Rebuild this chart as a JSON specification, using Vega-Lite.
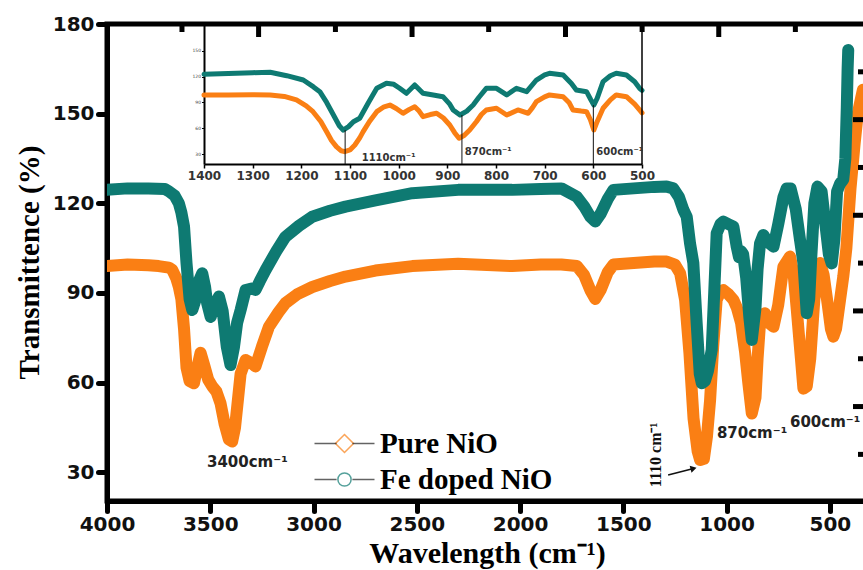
{
  "$schema": "https://vega.github.io/schema/vega-lite/v6.json",
  "width": 759,
  "height": 477,
  "autosize": {"type": "none"},
  "padding": {"left": 107, "top": 24, "right": 0, "bottom": 69},
  "background": "white",
  "config": {
    "view": {"stroke": "black", "strokeWidth": 5},
    "axis": {"grid": false, "labelFlush": false, "labelOverlap": false, "labelBound": false}
  },
  "datasets": {
    "main": [
      {"s":"Pure NiO","wn":4000,"t":99},{"s":"Pure NiO","wn":3900,"t":99.5},{"s":"Pure NiO","wn":3800,"t":99.3},{"s":"Pure NiO","wn":3750,"t":99},{"s":"Pure NiO","wn":3700,"t":98.5},{"s":"Pure NiO","wn":3684,"t":97.7},{"s":"Pure NiO","wn":3665,"t":95},{"s":"Pure NiO","wn":3652,"t":92},{"s":"Pure NiO","wn":3640,"t":88},{"s":"Pure NiO","wn":3627,"t":78},{"s":"Pure NiO","wn":3615,"t":65},{"s":"Pure NiO","wn":3600,"t":60.5},{"s":"Pure NiO","wn":3579,"t":59.8},{"s":"Pure NiO","wn":3560,"t":66},{"s":"Pure NiO","wn":3547,"t":70},{"s":"Pure NiO","wn":3530,"t":66},{"s":"Pure NiO","wn":3510,"t":61},{"s":"Pure NiO","wn":3490,"t":58.7},{"s":"Pure NiO","wn":3470,"t":57},{"s":"Pure NiO","wn":3450,"t":53},{"s":"Pure NiO","wn":3430,"t":46},{"s":"Pure NiO","wn":3410,"t":41},{"s":"Pure NiO","wn":3394,"t":40.3},{"s":"Pure NiO","wn":3380,"t":45},{"s":"Pure NiO","wn":3365,"t":55},{"s":"Pure NiO","wn":3353,"t":63},{"s":"Pure NiO","wn":3329,"t":67.6},{"s":"Pure NiO","wn":3300,"t":66.5},{"s":"Pure NiO","wn":3281,"t":65.4},{"s":"Pure NiO","wn":3250,"t":72},{"s":"Pure NiO","wn":3216,"t":78.7},{"s":"Pure NiO","wn":3170,"t":83.5},{"s":"Pure NiO","wn":3136,"t":86.6},{"s":"Pure NiO","wn":3080,"t":89.5},{"s":"Pure NiO","wn":3006,"t":92},{"s":"Pure NiO","wn":2920,"t":94},{"s":"Pure NiO","wn":2845,"t":95.5},{"s":"Pure NiO","wn":2700,"t":97.5},{"s":"Pure NiO","wn":2522,"t":99},{"s":"Pure NiO","wn":2300,"t":99.8},{"s":"Pure NiO","wn":2038,"t":99},{"s":"Pure NiO","wn":1900,"t":99.5},{"s":"Pure NiO","wn":1800,"t":99.5},{"s":"Pure NiO","wn":1725,"t":99},{"s":"Pure NiO","wn":1690,"t":96},{"s":"Pure NiO","wn":1660,"t":91},{"s":"Pure NiO","wn":1636,"t":88},{"s":"Pure NiO","wn":1610,"t":91},{"s":"Pure NiO","wn":1575,"t":97},{"s":"Pure NiO","wn":1548,"t":99.5},{"s":"Pure NiO","wn":1450,"t":100},{"s":"Pure NiO","wn":1350,"t":100.5},{"s":"Pure NiO","wn":1290,"t":100.5},{"s":"Pure NiO","wn":1250,"t":99.5},{"s":"Pure NiO","wn":1225,"t":96.6},{"s":"Pure NiO","wn":1201,"t":87.7},{"s":"Pure NiO","wn":1180,"t":70},{"s":"Pure NiO","wn":1160,"t":48},{"s":"Pure NiO","wn":1140,"t":37},{"s":"Pure NiO","wn":1128,"t":34.1},{"s":"Pure NiO","wn":1110,"t":34.5},{"s":"Pure NiO","wn":1095,"t":42},{"s":"Pure NiO","wn":1080,"t":54},{"s":"Pure NiO","wn":1065,"t":72},{"s":"Pure NiO","wn":1048,"t":87.7},{"s":"Pure NiO","wn":1030,"t":90.5},{"s":"Pure NiO","wn":1016,"t":91},{"s":"Pure NiO","wn":990,"t":89.5},{"s":"Pure NiO","wn":967,"t":87.7},{"s":"Pure NiO","wn":950,"t":85},{"s":"Pure NiO","wn":930,"t":80},{"s":"Pure NiO","wn":910,"t":70},{"s":"Pure NiO","wn":895,"t":60},{"s":"Pure NiO","wn":878,"t":49.7},{"s":"Pure NiO","wn":860,"t":55},{"s":"Pure NiO","wn":850,"t":68},{"s":"Pure NiO","wn":838,"t":80},{"s":"Pure NiO","wn":814,"t":83.2},{"s":"Pure NiO","wn":795,"t":80},{"s":"Pure NiO","wn":773,"t":78.7},{"s":"Pure NiO","wn":750,"t":86},{"s":"Pure NiO","wn":725,"t":98.8},{"s":"Pure NiO","wn":693,"t":102.2},{"s":"Pure NiO","wn":675,"t":96},{"s":"Pure NiO","wn":660,"t":84.3},{"s":"Pure NiO","wn":640,"t":68},{"s":"Pure NiO","wn":628,"t":58},{"s":"Pure NiO","wn":612,"t":58.7},{"s":"Pure NiO","wn":595,"t":68},{"s":"Pure NiO","wn":575,"t":88},{"s":"Pure NiO","wn":560,"t":97},{"s":"Pure NiO","wn":547,"t":100},{"s":"Pure NiO","wn":530,"t":96},{"s":"Pure NiO","wn":510,"t":86},{"s":"Pure NiO","wn":495,"t":78},{"s":"Pure NiO","wn":483,"t":75.4},{"s":"Pure NiO","wn":470,"t":78},{"s":"Pure NiO","wn":450,"t":88},{"s":"Pure NiO","wn":435,"t":95.5},{"s":"Pure NiO","wn":420,"t":105},{"s":"Pure NiO","wn":400,"t":125},{"s":"Pure NiO","wn":380,"t":140},{"s":"Pure NiO","wn":365,"t":150},{"s":"Pure NiO","wn":340,"t":158},
      {"s":"Fe doped NiO","wn":4000,"t":124.5},{"s":"Fe doped NiO","wn":3900,"t":125},{"s":"Fe doped NiO","wn":3800,"t":125},{"s":"Fe doped NiO","wn":3720,"t":124.8},{"s":"Fe doped NiO","wn":3700,"t":124},{"s":"Fe doped NiO","wn":3672,"t":122.5},{"s":"Fe doped NiO","wn":3652,"t":120},{"s":"Fe doped NiO","wn":3640,"t":117},{"s":"Fe doped NiO","wn":3627,"t":112.2},{"s":"Fe doped NiO","wn":3615,"t":100},{"s":"Fe doped NiO","wn":3600,"t":88},{"s":"Fe doped NiO","wn":3587,"t":84.3},{"s":"Fe doped NiO","wn":3570,"t":88},{"s":"Fe doped NiO","wn":3555,"t":94},{"s":"Fe doped NiO","wn":3539,"t":96.6},{"s":"Fe doped NiO","wn":3525,"t":92},{"s":"Fe doped NiO","wn":3515,"t":86.6},{"s":"Fe doped NiO","wn":3498,"t":82},{"s":"Fe doped NiO","wn":3480,"t":86},{"s":"Fe doped NiO","wn":3458,"t":88.8},{"s":"Fe doped NiO","wn":3440,"t":84},{"s":"Fe doped NiO","wn":3420,"t":72},{"s":"Fe doped NiO","wn":3402,"t":65.9},{"s":"Fe doped NiO","wn":3385,"t":72},{"s":"Fe doped NiO","wn":3370,"t":80},{"s":"Fe doped NiO","wn":3353,"t":84.3},{"s":"Fe doped NiO","wn":3329,"t":91},{"s":"Fe doped NiO","wn":3300,"t":91.5},{"s":"Fe doped NiO","wn":3281,"t":91},{"s":"Fe doped NiO","wn":3260,"t":94},{"s":"Fe doped NiO","wn":3232,"t":97.7},{"s":"Fe doped NiO","wn":3180,"t":104},{"s":"Fe doped NiO","wn":3136,"t":108.8},{"s":"Fe doped NiO","wn":3070,"t":112.5},{"s":"Fe doped NiO","wn":3006,"t":115.5},{"s":"Fe doped NiO","wn":2920,"t":117.5},{"s":"Fe doped NiO","wn":2845,"t":118.9},{"s":"Fe doped NiO","wn":2700,"t":121},{"s":"Fe doped NiO","wn":2522,"t":123.4},{"s":"Fe doped NiO","wn":2300,"t":124.5},{"s":"Fe doped NiO","wn":2038,"t":124.5},{"s":"Fe doped NiO","wn":1900,"t":124.8},{"s":"Fe doped NiO","wn":1800,"t":125},{"s":"Fe doped NiO","wn":1725,"t":122.2},{"s":"Fe doped NiO","wn":1690,"t":119},{"s":"Fe doped NiO","wn":1660,"t":115.5},{"s":"Fe doped NiO","wn":1636,"t":113.9},{"s":"Fe doped NiO","wn":1610,"t":116.5},{"s":"Fe doped NiO","wn":1575,"t":121.5},{"s":"Fe doped NiO","wn":1548,"t":124.5},{"s":"Fe doped NiO","wn":1450,"t":125},{"s":"Fe doped NiO","wn":1350,"t":125.5},{"s":"Fe doped NiO","wn":1290,"t":125.6},{"s":"Fe doped NiO","wn":1258,"t":125},{"s":"Fe doped NiO","wn":1230,"t":122},{"s":"Fe doped NiO","wn":1209,"t":117.8},{"s":"Fe doped NiO","wn":1193,"t":115.5},{"s":"Fe doped NiO","wn":1177,"t":106.6},{"s":"Fe doped NiO","wn":1161,"t":100},{"s":"Fe doped NiO","wn":1145,"t":80},{"s":"Fe doped NiO","wn":1130,"t":63},{"s":"Fe doped NiO","wn":1120,"t":59.8},{"s":"Fe doped NiO","wn":1105,"t":60.5},{"s":"Fe doped NiO","wn":1090,"t":64},{"s":"Fe doped NiO","wn":1072,"t":71},{"s":"Fe doped NiO","wn":1060,"t":90},{"s":"Fe doped NiO","wn":1048,"t":110},{"s":"Fe doped NiO","wn":1030,"t":113},{"s":"Fe doped NiO","wn":1016,"t":113.9},{"s":"Fe doped NiO","wn":990,"t":113},{"s":"Fe doped NiO","wn":967,"t":112.2},{"s":"Fe doped NiO","wn":951,"t":105.5},{"s":"Fe doped NiO","wn":940,"t":102},{"s":"Fe doped NiO","wn":930,"t":104},{"s":"Fe doped NiO","wn":920,"t":103},{"s":"Fe doped NiO","wn":905,"t":95},{"s":"Fe doped NiO","wn":890,"t":82},{"s":"Fe doped NiO","wn":878,"t":74.3},{"s":"Fe doped NiO","wn":860,"t":85},{"s":"Fe doped NiO","wn":850,"t":98},{"s":"Fe doped NiO","wn":838,"t":106.6},{"s":"Fe doped NiO","wn":822,"t":109.4},{"s":"Fe doped NiO","wn":800,"t":107},{"s":"Fe doped NiO","wn":773,"t":105.5},{"s":"Fe doped NiO","wn":750,"t":113},{"s":"Fe doped NiO","wn":725,"t":122},{"s":"Fe doped NiO","wn":709,"t":125},{"s":"Fe doped NiO","wn":690,"t":125},{"s":"Fe doped NiO","wn":665,"t":118},{"s":"Fe doped NiO","wn":645,"t":108},{"s":"Fe doped NiO","wn":628,"t":100},{"s":"Fe doped NiO","wn":612,"t":83.2},{"s":"Fe doped NiO","wn":600,"t":88},{"s":"Fe doped NiO","wn":590,"t":102},{"s":"Fe doped NiO","wn":575,"t":120},{"s":"Fe doped NiO","wn":560,"t":125.6},{"s":"Fe doped NiO","wn":540,"t":124},{"s":"Fe doped NiO","wn":520,"t":112},{"s":"Fe doped NiO","wn":505,"t":103},{"s":"Fe doped NiO","wn":491,"t":99.9},{"s":"Fe doped NiO","wn":478,"t":108},{"s":"Fe doped NiO","wn":465,"t":124},{"s":"Fe doped NiO","wn":451,"t":126.5},{"s":"Fe doped NiO","wn":435,"t":128},{"s":"Fe doped NiO","wn":425,"t":135},{"s":"Fe doped NiO","wn":418,"t":152},{"s":"Fe doped NiO","wn":414,"t":165},{"s":"Fe doped NiO","wn":411,"t":171.3}
    ],
    "inset": [
      {"s":"Pure NiO","wn":1400,"t":98.7},{"s":"Pure NiO","wn":1350,"t":98.7},{"s":"Pure NiO","wn":1300,"t":99},{"s":"Pure NiO","wn":1264,"t":98.7},{"s":"Pure NiO","wn":1235,"t":97},{"s":"Pure NiO","wn":1210,"t":92.9},{"s":"Pure NiO","wn":1190,"t":86},{"s":"Pure NiO","wn":1176,"t":79.3},{"s":"Pure NiO","wn":1160,"t":68},{"s":"Pure NiO","wn":1148,"t":56.2},{"s":"Pure NiO","wn":1138,"t":46},{"s":"Pure NiO","wn":1128,"t":38.8},{"s":"Pure NiO","wn":1118,"t":34},{"s":"Pure NiO","wn":1111,"t":33},{"s":"Pure NiO","wn":1100,"t":35},{"s":"Pure NiO","wn":1090,"t":40.7},{"s":"Pure NiO","wn":1080,"t":49},{"s":"Pure NiO","wn":1073,"t":56.2},{"s":"Pure NiO","wn":1060,"t":68},{"s":"Pure NiO","wn":1045,"t":79.3},{"s":"Pure NiO","wn":1030,"t":85},{"s":"Pure NiO","wn":1018,"t":87},{"s":"Pure NiO","wn":1005,"t":83},{"s":"Pure NiO","wn":991,"t":77.5},{"s":"Pure NiO","wn":978,"t":82},{"s":"Pure NiO","wn":967,"t":85.1},{"s":"Pure NiO","wn":958,"t":80},{"s":"Pure NiO","wn":950,"t":73.6},{"s":"Pure NiO","wn":935,"t":76},{"s":"Pure NiO","wn":922,"t":77.5},{"s":"Pure NiO","wn":908,"t":72},{"s":"Pure NiO","wn":895,"t":63.9},{"s":"Pure NiO","wn":885,"t":55},{"s":"Pure NiO","wn":876,"t":48.5},{"s":"Pure NiO","wn":865,"t":52},{"s":"Pure NiO","wn":854,"t":58.1},{"s":"Pure NiO","wn":840,"t":68},{"s":"Pure NiO","wn":830,"t":76},{"s":"Pure NiO","wn":820,"t":81.3},{"s":"Pure NiO","wn":799,"t":83.3},{"s":"Pure NiO","wn":778,"t":75.5},{"s":"Pure NiO","wn":755,"t":81.3},{"s":"Pure NiO","wn":734,"t":77.5},{"s":"Pure NiO","wn":725,"t":84},{"s":"Pure NiO","wn":717,"t":90.9},{"s":"Pure NiO","wn":700,"t":96.5},{"s":"Pure NiO","wn":690,"t":98.7},{"s":"Pure NiO","wn":662,"t":96.7},{"s":"Pure NiO","wn":650,"t":90},{"s":"Pure NiO","wn":642,"t":81.3},{"s":"Pure NiO","wn":625,"t":80},{"s":"Pure NiO","wn":614,"t":79.3},{"s":"Pure NiO","wn":606,"t":70},{"s":"Pure NiO","wn":599,"t":58.1},{"s":"Pure NiO","wn":592,"t":68},{"s":"Pure NiO","wn":580,"t":83.3},{"s":"Pure NiO","wn":565,"t":93},{"s":"Pure NiO","wn":553,"t":98.7},{"s":"Pure NiO","wn":532,"t":96.7},{"s":"Pure NiO","wn":515,"t":88},{"s":"Pure NiO","wn":505,"t":81.3},{"s":"Pure NiO","wn":500,"t":78},
      {"s":"Fe doped NiO","wn":1400,"t":122.7},{"s":"Fe doped NiO","wn":1350,"t":123.5},{"s":"Fe doped NiO","wn":1300,"t":124.5},{"s":"Fe doped NiO","wn":1264,"t":125},{"s":"Fe doped NiO","wn":1230,"t":121},{"s":"Fe doped NiO","wn":1196,"t":116},{"s":"Fe doped NiO","wn":1175,"t":108},{"s":"Fe doped NiO","wn":1162,"t":102.5},{"s":"Fe doped NiO","wn":1148,"t":90},{"s":"Fe doped NiO","wn":1134,"t":75.5},{"s":"Fe doped NiO","wn":1122,"t":63},{"s":"Fe doped NiO","wn":1114,"t":58},{"s":"Fe doped NiO","wn":1103,"t":62},{"s":"Fe doped NiO","wn":1093,"t":67.7},{"s":"Fe doped NiO","wn":1080,"t":71.7},{"s":"Fe doped NiO","wn":1062,"t":90},{"s":"Fe doped NiO","wn":1045,"t":106.4},{"s":"Fe doped NiO","wn":1025,"t":112.2},{"s":"Fe doped NiO","wn":1010,"t":111},{"s":"Fe doped NiO","wn":998,"t":106.4},{"s":"Fe doped NiO","wn":984,"t":100.6},{"s":"Fe doped NiO","wn":967,"t":110.3},{"s":"Fe doped NiO","wn":950,"t":100.6},{"s":"Fe doped NiO","wn":929,"t":98.7},{"s":"Fe doped NiO","wn":909,"t":96.7},{"s":"Fe doped NiO","wn":895,"t":88},{"s":"Fe doped NiO","wn":888,"t":81.3},{"s":"Fe doped NiO","wn":874,"t":75.5},{"s":"Fe doped NiO","wn":860,"t":80},{"s":"Fe doped NiO","wn":847,"t":87},{"s":"Fe doped NiO","wn":835,"t":96},{"s":"Fe doped NiO","wn":820,"t":106.4},{"s":"Fe doped NiO","wn":799,"t":106.4},{"s":"Fe doped NiO","wn":778,"t":98.7},{"s":"Fe doped NiO","wn":758,"t":106.4},{"s":"Fe doped NiO","wn":737,"t":102.5},{"s":"Fe doped NiO","wn":717,"t":116},{"s":"Fe doped NiO","wn":700,"t":122},{"s":"Fe doped NiO","wn":690,"t":123.8},{"s":"Fe doped NiO","wn":662,"t":121.8},{"s":"Fe doped NiO","wn":645,"t":112},{"s":"Fe doped NiO","wn":635,"t":104.5},{"s":"Fe doped NiO","wn":614,"t":102.5},{"s":"Fe doped NiO","wn":605,"t":93},{"s":"Fe doped NiO","wn":599,"t":87},{"s":"Fe doped NiO","wn":592,"t":95},{"s":"Fe doped NiO","wn":580,"t":114.1},{"s":"Fe doped NiO","wn":565,"t":121},{"s":"Fe doped NiO","wn":553,"t":123.8},{"s":"Fe doped NiO","wn":532,"t":121.8},{"s":"Fe doped NiO","wn":515,"t":114},{"s":"Fe doped NiO","wn":505,"t":106.4},{"s":"Fe doped NiO","wn":500,"t":104}
    ],
    "peaks": [
      {"wn": 1110, "t": 58},
      {"wn": 870, "t": 75.5},
      {"wn": 600, "t": 87}
    ],
    "topMajor": [{"wn": 3266}, {"wn": 2523}, {"wn": 1780}, {"wn": 1038}],
    "topMinor": [{"wn": 3637}, {"wn": 2894}, {"wn": 2152}, {"wn": 1409}, {"wn": 667}],
    "rightMajor": [{"t": 148}, {"t": 116}, {"t": 84}, {"t": 52}],
    "rightMinor": [{"t": 164}, {"t": 132}, {"t": 100}, {"t": 68}, {"t": 36}]
  },
  "layer": [
    {
      "data": {"name": "main"},
      "layer": [
        {
          "transform": [{"filter": "datum.s === 'Pure NiO'"}],
          "mark": {"type": "line", "strokeWidth": 12, "strokeCap": "round", "strokeJoin": "round", "clip": true, "color": "#FA7F14"},
          "encoding": {
            "x": {
              "field": "wn", "type": "quantitative",
              "scale": {"domain": [4000, 325], "nice": false, "zero": false},
              "axis": {
                "values": [4000, 3500, 3000, 2500, 2000, 1500, 1000, 500], "format": "d",
                "title": "Wavelength (cm⁻¹)",
                "titleFont": "Liberation Serif", "titleFontSize": 30, "titleFontWeight": "bold", "titleColor": "black",
                "titleX": 380, "titleY": 52, "titleBaseline": "middle", "titleAlign": "center",
                "labelFont": "DejaVu Sans", "labelFontSize": 20, "labelFontWeight": "bold", "labelColor": "#111",
                "labelPadding": 3, "tickSize": 10, "tickWidth": 5, "tickColor": "black", "tickCap": "round",
                "domainWidth": 5, "domainColor": "black"
              }
            },
            "y": {
              "field": "t", "type": "quantitative",
              "scale": {"domain": [20.4, 180], "nice": false, "zero": false},
              "axis": {
                "values": [30, 60, 90, 120, 150, 180],
                "title": "Transmittence (%)",
                "titleFont": "Liberation Serif", "titleFontSize": 29, "titleFontWeight": "bold", "titleColor": "black",
                "titleAngle": 270, "titleX": -78, "titleY": 238, "titleAlign": "center", "titleBaseline": "middle",
                "labelFont": "DejaVu Sans", "labelFontSize": 20, "labelFontWeight": "bold", "labelColor": "#111",
                "labelPadding": 4, "tickSize": 9, "tickWidth": 5, "tickColor": "black", "tickCap": "round",
                "domainWidth": 5, "domainColor": "black"
              }
            }
          }
        },
        {
          "transform": [{"filter": "datum.s === 'Fe doped NiO'"}],
          "mark": {"type": "line", "strokeWidth": 12, "strokeCap": "round", "strokeJoin": "round", "clip": true, "color": "#0E7A72"},
          "encoding": {
            "x": {"field": "wn", "type": "quantitative"},
            "y": {"field": "t", "type": "quantitative"}
          }
        },
        {
          "transform": [{"filter": "false"}],
          "mark": {"type": "point", "filled": false, "strokeWidth": 1.5},
          "encoding": {
            "x": {"field": "wn", "type": "quantitative"},
            "y": {"field": "t", "type": "quantitative"},
            "color": {
              "field": "s", "type": "nominal",
              "scale": {"domain": ["Pure NiO", "Fe doped NiO"], "range": ["#FA7F14", "#0E7A72"]},
              "legend": {
                "orient": "none", "legendX": 223, "legendY": 405, "title": null, "padding": 0,
                "symbolSize": 576, "symbolStrokeWidth": 1.5, "labelLimit": 0,
                "labelFont": "Liberation Serif", "labelFontSize": 29, "labelFontWeight": "bold", "labelColor": "black",
                "labelOffset": 21, "rowPadding": 6
              }
            },
            "shape": {
              "field": "s", "type": "nominal",
              "scale": {"domain": ["Pure NiO", "Fe doped NiO"], "range": [
                "M0,-0.75L0.75,0L0,0.75L-0.75,0Z",
                "M0.55,0A0.55,0.55,0,1,1,-0.55,0A0.55,0.55,0,1,1,0.55,0Z"
              ]},
              "legend": {
                "orient": "none", "legendX": 223, "legendY": 405, "title": null, "padding": 0,
                "symbolSize": 576, "symbolStrokeWidth": 1.5, "labelLimit": 0,
                "labelFont": "Liberation Serif", "labelFontSize": 29, "labelFontWeight": "bold", "labelColor": "black",
                "labelOffset": 21, "rowPadding": 6
              }
            },
            "strokeDash": {
              "field": "k", "type": "nominal",
              "scale": {"domain": ["a", "b"], "range": [[1, 0], [1, 0]]},
              "legend": {
                "orient": "none", "legendX": 223, "legendY": 405, "title": null, "padding": 0,
                "symbolSize": 576, "symbolStrokeWidth": 1.5, "symbolStrokeColor": "#222",
                "symbolType": "M-2.5,0H-0.66M0.66,0H2.5",
                "labelLimit": 0, "labelExpr": "''",
                "labelFont": "Liberation Serif", "labelFontSize": 29, "labelFontWeight": "bold",
                "labelOffset": 21, "rowPadding": 6,
                "encode": {"symbols": {"stroke": {"value": "#222"}, "fill": {"value": "transparent"}}}
              }
            }
          }
        },
        {
          "data": {"name": "topMajor"},
          "mark": {"type": "tick", "orient": "vertical", "size": 26, "thickness": 5, "color": "black", "clip": true, "opacity": 1},
          "encoding": {"x": {"field": "wn", "type": "quantitative"}, "y": {"datum": 180, "type": "quantitative"}}
        },
        {
          "data": {"name": "topMinor"},
          "mark": {"type": "tick", "orient": "vertical", "size": 16, "thickness": 5, "color": "black", "clip": true, "opacity": 1},
          "encoding": {"x": {"field": "wn", "type": "quantitative"}, "y": {"datum": 180, "type": "quantitative"}}
        },
        {
          "data": {"name": "rightMajor"},
          "mark": {"type": "tick", "orient": "horizontal", "size": 26, "thickness": 5, "color": "black", "clip": true, "opacity": 1},
          "encoding": {"y": {"field": "t", "type": "quantitative"}, "x": {"datum": 325, "type": "quantitative"}}
        },
        {
          "data": {"name": "rightMinor"},
          "mark": {"type": "tick", "orient": "horizontal", "size": 16, "thickness": 5, "color": "black", "clip": true, "opacity": 1},
          "encoding": {"y": {"field": "t", "type": "quantitative"}, "x": {"datum": 325, "type": "quantitative"}}
        },
        {
          "data": {"values": [{}]},
          "mark": {"type": "text", "text": "3400cm⁻¹", "align": "left", "baseline": "middle", "font": "DejaVu Sans", "fontWeight": "bold", "fontSize": 15, "color": "#222"},
          "encoding": {"x": {"datum": 3516, "type": "quantitative"}, "y": {"datum": 33.5, "type": "quantitative"}}
        },
        {
          "data": {"values": [{}]},
          "mark": {"type": "text", "text": "870cm⁻¹", "align": "left", "baseline": "middle", "font": "DejaVu Sans", "fontWeight": "bold", "fontSize": 15, "color": "#222"},
          "encoding": {"x": {"datum": 1047, "type": "quantitative"}, "y": {"datum": 43, "type": "quantitative"}}
        },
        {
          "data": {"values": [{}]},
          "mark": {"type": "text", "text": "600cm⁻¹", "align": "left", "baseline": "middle", "font": "DejaVu Sans", "fontWeight": "bold", "fontSize": 15, "color": "#222"},
          "encoding": {"x": {"datum": 693, "type": "quantitative"}, "y": {"datum": 47, "type": "quantitative"}}
        },
        {
          "data": {"values": [{}]},
          "mark": {"type": "text", "text": "1110 cm⁻¹", "angle": 270, "align": "center", "baseline": "middle", "font": "Liberation Serif", "fontWeight": "bold", "fontSize": 16, "color": "#111"},
          "encoding": {"x": {"datum": 1341, "type": "quantitative"}, "y": {"datum": 35.8, "type": "quantitative"}}
        },
        {
          "data": {"values": [{}]},
          "mark": {"type": "rule", "strokeWidth": 1.5, "color": "#111"},
          "encoding": {"x": {"datum": 1283, "type": "quantitative"}, "y": {"datum": 29.1, "type": "quantitative"}, "x2": {"datum": 1160}, "y2": {"datum": 31.3}}
        },
        {
          "data": {"values": [{}]},
          "mark": {"type": "point", "shape": "triangle-right", "angle": -15, "size": 50, "filled": true, "color": "#111", "opacity": 1},
          "encoding": {"x": {"datum": 1160, "type": "quantitative"}, "y": {"datum": 31.3, "type": "quantitative"}}
        }
      ]
    },
    {
      "data": {"name": "inset"},
      "layer": [
        {
          "transform": [{"filter": "datum.s === 'Pure NiO'"}],
          "mark": {"type": "line", "strokeWidth": 5, "strokeCap": "round", "strokeJoin": "round", "color": "#FA7F14"},
          "encoding": {
            "x": {
              "field": "wn", "type": "quantitative",
              "scale": {"domain": [1400, 500], "range": [97, 535], "nice": false, "zero": false},
              "axis": {
                "orient": "bottom", "offset": -337, "title": null, "format": "d",
                "values": [1400, 1300, 1200, 1100, 1000, 900, 800, 700, 600, 500],
                "labelFont": "DejaVu Sans", "labelFontSize": 12, "labelFontWeight": "bold", "labelColor": "#333",
                "labelPadding": 2, "tickSize": 4, "tickWidth": 1.5, "tickColor": "black",
                "domainWidth": 2, "domainColor": "black"
              }
            },
            "y": {
              "field": "t", "type": "quantitative",
              "scale": {"domain": [18.7, 180.9], "range": [140, 0], "nice": false, "zero": false},
              "axis": {
                "orient": "left", "offset": -97, "title": null, "format": "d",
                "values": [30, 60, 90, 120, 150],
                "labelFont": "DejaVu Sans", "labelFontSize": 4.5, "labelColor": "#444",
                "labelPadding": 1, "tickSize": 2.5, "tickWidth": 1, "tickColor": "black",
                "domainWidth": 2, "domainColor": "black"
              }
            }
          }
        },
        {
          "transform": [{"filter": "datum.s === 'Fe doped NiO'"}],
          "mark": {"type": "line", "strokeWidth": 5, "strokeCap": "round", "strokeJoin": "round", "color": "#0E7A72"},
          "encoding": {
            "x": {"field": "wn", "type": "quantitative"},
            "y": {"field": "t", "type": "quantitative"}
          }
        },
        {
          "data": {"name": "peaks"},
          "mark": {"type": "rule", "strokeWidth": 1, "color": "#111"},
          "encoding": {
            "x": {"field": "wn", "type": "quantitative"},
            "y": {"field": "t", "type": "quantitative"},
            "y2": {"datum": 18.7}
          }
        },
        {
          "data": {"values": [{}]},
          "mark": {"type": "rule", "strokeWidth": 1.5, "color": "black"},
          "encoding": {"x": {"datum": 500, "type": "quantitative"}, "y": {"datum": 18.7, "type": "quantitative"}, "y2": {"datum": 180.9}}
        },
        {
          "data": {"values": [{}]},
          "mark": {"type": "text", "text": "1110cm⁻¹", "align": "left", "baseline": "middle", "font": "DejaVu Sans", "fontWeight": "bold", "fontSize": 10, "color": "#333"},
          "encoding": {"x": {"datum": 1076, "type": "quantitative"}, "y": {"datum": 25.3, "type": "quantitative"}}
        },
        {
          "data": {"values": [{}]},
          "mark": {"type": "text", "text": "870cm⁻¹", "align": "left", "baseline": "middle", "font": "DejaVu Sans", "fontWeight": "bold", "fontSize": 10, "color": "#333"},
          "encoding": {"x": {"datum": 864, "type": "quantitative"}, "y": {"datum": 33, "type": "quantitative"}}
        },
        {
          "data": {"values": [{}]},
          "mark": {"type": "text", "text": "600cm⁻¹", "align": "left", "baseline": "middle", "font": "DejaVu Sans", "fontWeight": "bold", "fontSize": 10, "color": "#333"},
          "encoding": {"x": {"datum": 594, "type": "quantitative"}, "y": {"datum": 33, "type": "quantitative"}}
        }
      ]
    }
  ],
  "resolve": {"scale": {"x": "independent", "y": "independent"}}
}
